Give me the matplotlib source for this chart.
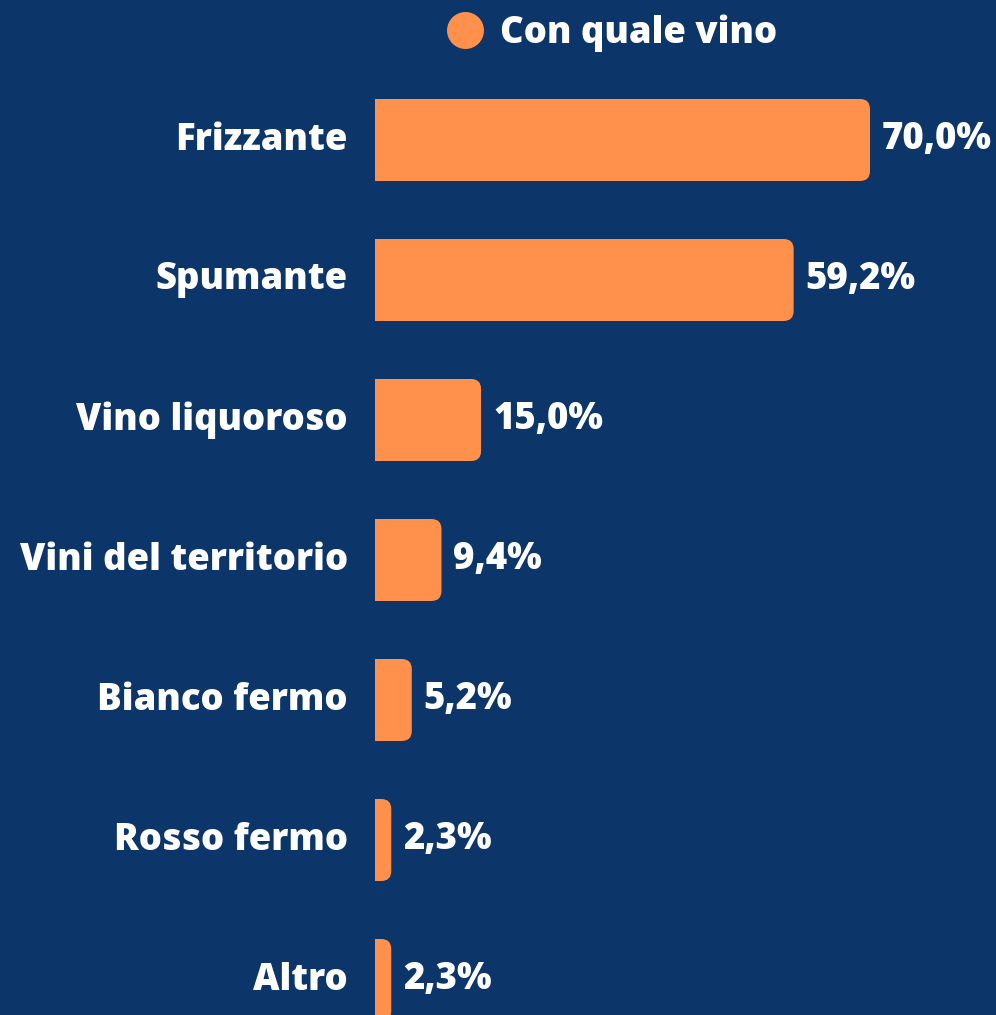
import matplotlib.pyplot as plt
from matplotlib.patches import FancyBboxPatch, Rectangle
from matplotlib.lines import Line2D

# data
categories = ["Frizzante", "Spumante", "Vino liquoroso", "Vini del territorio",
              "Bianco fermo", "Rosso fermo", "Altro"]
values = [70.0, 59.2, 15.0, 9.4, 5.2, 2.3, 2.3]
value_labels = ["70,0%", "59,2%", "15,0%", "9,4%", "5,2%", "2,3%", "2,3%"]
series_name = "Con quale vino"

bg = "#0c356a"
orange = "#ff914d"
plt.rcParams['font.family'] = ['Open Sans', 'DejaVu Sans']
FS = 26.3
WEIGHT = 800

W, H = 996, 1015
px_per_unit = 495 / 70.0
fig = plt.figure(figsize=(W / 100, H / 100), dpi=100, facecolor=bg)
ax = fig.add_axes([0, 0, 1, 1], facecolor=bg)
ax.set_xlim(-375 / px_per_unit, (W - 375) / px_per_unit)
ax.set_ylim((H - 140) / 140, -1.0)
ax.axis("off")

ypos = list(range(len(categories)))
bars = ax.barh(ypos, values, height=82 / 140, color=orange)

# swap the plain bars for ones with rounded right-hand corners
r = 10 / px_per_unit
aspect = px_per_unit / 140
for b in bars:
    x, y, w, h = b.get_x(), b.get_y(), b.get_width(), b.get_height()
    b.set_visible(False)
    p = FancyBboxPatch((x - 3 * r, y), w + 3 * r, h,
                       boxstyle=f"round,pad=0,rounding_size={r}",
                       mutation_aspect=aspect, facecolor=orange,
                       edgecolor="none")
    ax.add_patch(p)
    clip = Rectangle((x, y), w + 1, h, transform=ax.transData)
    p.set_clip_path(clip)

for yy, cat, v, lab in zip(ypos, categories, values, value_labels):
    ax.annotate(cat, (0, yy), xytext=(-27 * 0.72, 0), textcoords="offset points",
                ha="right", va="center", color="white", fontsize=FS,
                fontweight=WEIGHT)
    ax.annotate(lab, (v, yy), xytext=(12 * 0.72, 0), textcoords="offset points",
                ha="left", va="center", color="white", fontsize=FS,
                fontweight=WEIGHT)

handle = Line2D([], [], marker="o", linestyle="none", markersize=26.6,
                markerfacecolor=orange, markeredgecolor="none")
fig.legend([handle], [series_name], loc="center",
           bbox_to_anchor=(612 / W, 1 - 33 / H), frameon=False,
           handletextpad=0.48, handlelength=1.0, labelcolor="white",
           prop={"size": FS, "weight": WEIGHT})

fig.savefig("out.png", dpi=100, facecolor=bg)
